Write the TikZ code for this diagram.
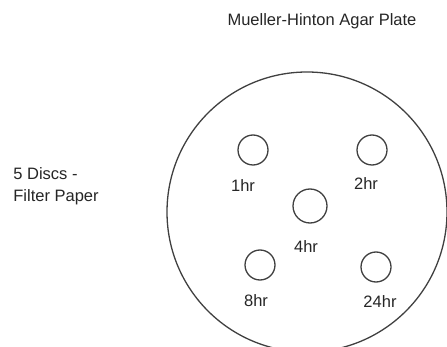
\documentclass[tikz,border=0pt]{standalone}
\usepackage{fontspec}
\setmainfont{Liberation Sans}
\begin{document}
\begin{tikzpicture}[x=1pt,y=-1pt,thick,
        disc/.style={circle,draw=black!75,line width=1.3pt,inner sep=0pt,minimum size=30pt},
        lbl/.style={fill=white,inner sep=2pt,text=black!85,font=\fontsize{16.5}{22}\selectfont}]
        \useasboundingbox (0,0) rectangle (447,347);
        \clip (0,0) rectangle (447,347);
        % the plate
        \node [circle, draw=black!75, line width=1.3pt, inner sep=0pt, minimum size=280pt] (plate) at (307,212) {};
        \node [lbl] (title) at (322,21) {Mueller-Hinton Agar Plate};
        \node [lbl, anchor=west, align=left, inner sep=0pt] (side) at (13,186) {5 Discs -\\Filter Paper};
        % discs and their times
        \node [disc] (1) at (253,150) {};
        \node [disc] (2) at (372,150) {};
        \node [disc, minimum size=34pt] (4) at (310,206) {};
        \node [disc] (8) at (260,265) {};
        \node [disc] (24) at (376,267) {};
        \node [lbl] (l1) at (243,186) {1hr};
        \node [lbl] (l2) at (366,184) {2hr};
        \node [lbl] (l4) at (306,247) {4hr};
        \node [lbl] (l8) at (256,301) {8hr};
        \node [lbl] (l24) at (380,302) {24hr};
    \end{tikzpicture}
\end{document}
